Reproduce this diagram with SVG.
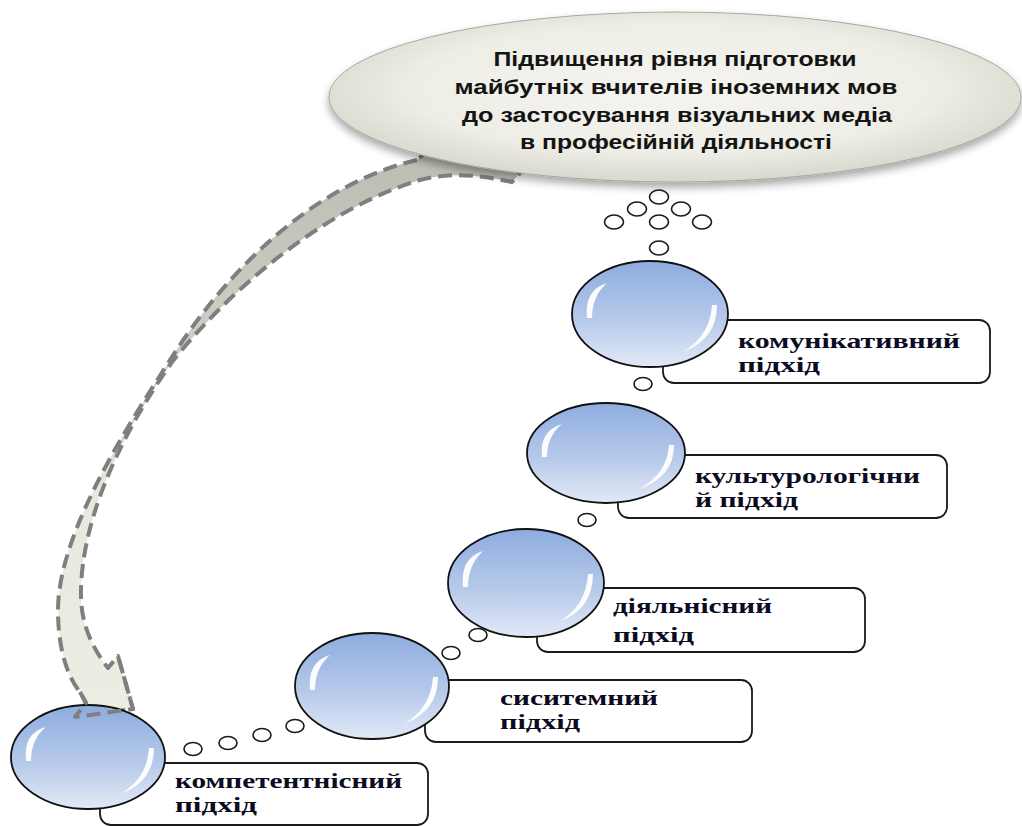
<svg xmlns="http://www.w3.org/2000/svg" xmlns:xlink="http://www.w3.org/1999/xlink" width="1022" height="826" viewBox="0 0 1022 826">
<defs>
  <linearGradient id="ballGrad" x1="0" y1="0" x2="0" y2="1">
    <stop offset="0" stop-color="#8dacdf"/>
    <stop offset="0.55" stop-color="#b6c9ea"/>
    <stop offset="1" stop-color="#e2e9f6"/>
  </linearGradient>
  <radialGradient id="ovalGrad" cx="0.5" cy="0.45" r="0.55">
    <stop offset="0" stop-color="#f5f4ef"/>
    <stop offset="0.7" stop-color="#eeede6"/>
    <stop offset="1" stop-color="#d9d8cd"/>
  </radialGradient>
  <linearGradient id="arrowGrad" gradientUnits="userSpaceOnUse" x1="0" y1="160" x2="0" y2="720">
    <stop offset="0" stop-color="#bdbdb4"/>
    <stop offset="0.4" stop-color="#d4d3ca"/>
    <stop offset="0.6" stop-color="#e9e8df"/>
    <stop offset="1" stop-color="#eeede4"/>
  </linearGradient>
  <filter id="shadow" x="-10%" y="-10%" width="120%" height="130%">
    <feDropShadow dx="0" dy="5" stdDeviation="4" flood-color="#000" flood-opacity="0.35"/>
  </filter>
</defs>
<style>
  .ball { fill: url(#ballGrad); stroke: #111; stroke-width: 1.8; }
  .hl { fill: #ffffff; opacity: 0.95; }
  .box { fill: #ffffff; stroke: #1a1a1a; stroke-width: 1.8; }
  .dot { fill: #ffffff; stroke: #1a1a1a; stroke-width: 1.6; }
  .lbl { font-family: "Liberation Serif", "Times New Roman", serif; font-weight: bold; font-size: 21px; fill: #0b0b22; }
  .main { font-family: "Liberation Sans", Arial, sans-serif; font-weight: bold; font-size: 20px; fill: #141414; }
  .arrow { fill: url(#arrowGrad); stroke: #7f7f7f; stroke-width: 4; stroke-dasharray: 14 7; stroke-linejoin: round; }
</style>

<g id="connectors">
  <path class="arrow" d="M417,160 C330,180 240,250 170,360 C135,415 58,530 58,610 C58,650 68,678 80,692 L86,703 L75,717 L133,709 L118,656 L108,668 C90,645 80,620 81,590 C82,530 110,450 172,362 C225,295 320,210 420,180 C450,172 480,175 512,182 L540,150 L440,140 Z"/>
  <g id="bubbles">
    <ellipse class="dot" cx="659" cy="197" rx="9.5" ry="7"/>
    <ellipse class="dot" cx="637" cy="209" rx="9.5" ry="7"/>
    <ellipse class="dot" cx="681" cy="209" rx="9.5" ry="7"/>
    <ellipse class="dot" cx="614" cy="222" rx="9.5" ry="7"/>
    <ellipse class="dot" cx="659" cy="222" rx="9.5" ry="7"/>
    <ellipse class="dot" cx="702" cy="222" rx="9.5" ry="7"/>
    <ellipse class="dot" cx="659" cy="248" rx="9.5" ry="7"/>
    <ellipse class="dot" cx="643" cy="384" rx="9" ry="6.5"/>
    <ellipse class="dot" cx="587" cy="520" rx="9" ry="6.5"/>
    <ellipse class="dot" cx="478" cy="635" rx="9" ry="6.5"/>
    <ellipse class="dot" cx="451" cy="653" rx="9" ry="6.5"/>
    <ellipse class="dot" cx="295" cy="726" rx="9" ry="6.5"/>
    <ellipse class="dot" cx="262" cy="735" rx="9" ry="6.5"/>
    <ellipse class="dot" cx="228" cy="743" rx="9" ry="6.5"/>
    <ellipse class="dot" cx="193" cy="749" rx="9" ry="6.5"/>
  </g>
</g>

<g id="goal">
  <ellipse cx="675" cy="97" rx="346" ry="85" fill="url(#ovalGrad)" stroke="#a8a79e" stroke-width="1" filter="url(#shadow)"/>
  <text class="main" text-anchor="middle" x="675" y="66" textLength="363" lengthAdjust="spacingAndGlyphs">Підвищення рівня підготовки</text>
  <text class="main" text-anchor="middle" x="676" y="94" textLength="443" lengthAdjust="spacingAndGlyphs">майбутніх вчителів іноземних мов</text>
  <text class="main" text-anchor="middle" x="677" y="122" textLength="430" lengthAdjust="spacingAndGlyphs">до застосування візуальних медіа</text>
  <text class="main" text-anchor="middle" x="676" y="149" textLength="312" lengthAdjust="spacingAndGlyphs">в професійній діяльності</text>
</g>

<g id="node-communicative">
  <rect class="box" x="663" y="320" width="327" height="63" rx="11"/>
  <g transform="translate(650,314)">
    <ellipse class="ball" rx="78" ry="53"/>
    <path class="hl" d="M-63,4 Q-66,-24 -43,-31 Q-58,-18 -58,4 Z"/>
    <path class="hl" d="M67,-9 Q67,25 33,38 Q60,22 62,-9 Z"/>
  </g>
  <text class="lbl" x="738" y="348" textLength="222" lengthAdjust="spacingAndGlyphs">комунікативний</text>
  <text class="lbl" x="738" y="372" textLength="82" lengthAdjust="spacingAndGlyphs">підхід</text>
</g>

<g id="node-culturological">
  <rect class="box" x="618" y="455" width="329" height="63" rx="11"/>
  <g transform="translate(606,453)">
    <ellipse class="ball" rx="79" ry="50"/>
    <path class="hl" d="M-64,4 Q-67,-22 -44,-29 Q-59,-17 -59,4 Z"/>
    <path class="hl" d="M68,-8 Q68,24 33,36 Q61,21 63,-8 Z"/>
  </g>
  <text class="lbl" x="695" y="483" textLength="225" lengthAdjust="spacingAndGlyphs">культурологічни</text>
  <text class="lbl" x="695" y="507" textLength="103" lengthAdjust="spacingAndGlyphs">й підхід</text>
</g>

<g id="node-activity">
  <rect class="box" x="537" y="588" width="328" height="64" rx="11"/>
  <g transform="translate(526,583)">
    <ellipse class="ball" rx="78" ry="54"/>
    <path class="hl" d="M-63,4 Q-66,-25 -43,-32 Q-58,-18 -58,4 Z"/>
    <path class="hl" d="M67,-9 Q67,26 33,39 Q60,23 62,-9 Z"/>
  </g>
  <text class="lbl" x="613" y="613" textLength="159" lengthAdjust="spacingAndGlyphs">діяльнісний</text>
  <text class="lbl" x="613" y="642" textLength="81" lengthAdjust="spacingAndGlyphs">підхід</text>
</g>

<g id="node-systemic">
  <rect class="box" x="425" y="680" width="327" height="62" rx="11"/>
  <g transform="translate(372,686)">
    <ellipse class="ball" rx="77" ry="53"/>
    <path class="hl" d="M-62,4 Q-65,-24 -42,-31 Q-57,-18 -57,4 Z"/>
    <path class="hl" d="M66,-9 Q66,25 32,38 Q59,22 61,-9 Z"/>
  </g>
  <text class="lbl" x="500" y="705" textLength="158" lengthAdjust="spacingAndGlyphs">сиситемний</text>
  <text class="lbl" x="500" y="729" textLength="80" lengthAdjust="spacingAndGlyphs">підхід</text>
</g>

<g id="node-competence">
  <rect class="box" x="100" y="763" width="328" height="62" rx="11"/>
  <g transform="translate(88,757)">
    <ellipse class="ball" rx="77" ry="52"/>
    <path class="hl" d="M-62,4 Q-65,-24 -42,-30 Q-57,-18 -57,4 Z"/>
    <path class="hl" d="M66,-9 Q66,25 32,37 Q59,22 61,-9 Z"/>
  </g>
  <text class="lbl" x="175" y="788" textLength="227" lengthAdjust="spacingAndGlyphs">компетентнісний</text>
  <text class="lbl" x="175" y="812" textLength="82" lengthAdjust="spacingAndGlyphs">підхід</text>
</g>

<path class="arrow" d="M80,692 L86,703 L75,717 L133,709 L118,656" style="fill:none"/>
</svg>
